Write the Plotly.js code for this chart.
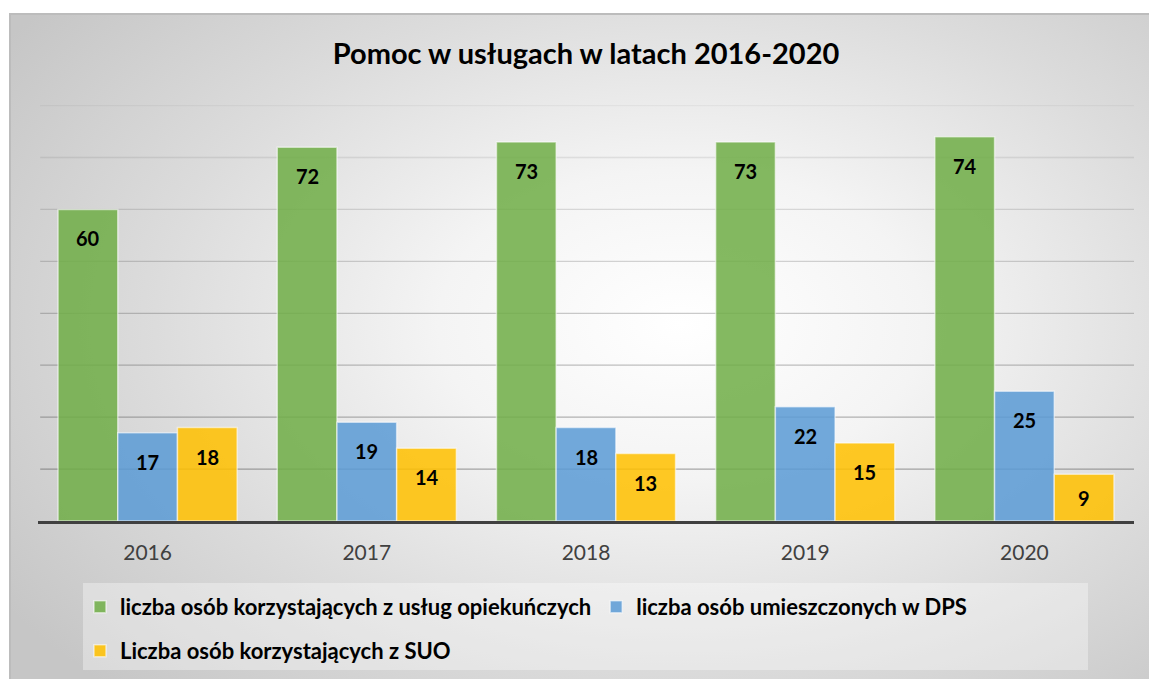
<!DOCTYPE html>
<html>
<head>
<meta charset="utf-8">
<script src="https://cdn.plot.ly/plotly-3.0.1.min.js"></script>
<style>
  html, body { margin: 0; padding: 0; background: #ffffff; width: 1149px; height: 679px; overflow: hidden; }
  #bg { position: absolute; left: 9px; top: 13px; width: 1160px; height: 690px;
        border: 2px solid #bcbcbc; box-sizing: border-box;
        background: radial-gradient(ellipse 70% 75% at 58% 45%, #ffffff 0%, #f4f4f4 30%, #dcdcdc 65%, #c6c6c6 100%); }
  #chart { position: absolute; left: 0; top: 0; width: 1149px; height: 679px; }
</style>
</head>
<body>
<div id="bg"></div>
<div id="chart"></div>
<script>
const years = ['2016', '2017', '2018', '2019', '2020'];
const opiekuncze = [60, 72, 73, 73, 74];
const dps = [17, 19, 18, 22, 25];
const suo = [18, 14, 13, 15, 9];
const seriesNames = [
  'liczba osób korzystających z usług opiekuńczych',
  'liczba osób umieszczonych w DPS',
  'Liczba osób korzystających z SUO'
];
const gridValues = [10, 20, 30, 40, 50, 60, 70, 80];

const seriesColors = ['rgba(112,173,71,0.86)', 'rgba(91,155,213,0.86)', 'rgba(255,192,0,0.86)'];
const seriesValues = [opiekuncze, dps, suo];

const FONT = 'Lato, "Open Sans", sans-serif';
const bargap = 0.183;
const yMax = 80.5;
const pxPerUnit = 415 / 80;
const plotBottom = 521;
const plotTop = Math.round(plotBottom - yMax * pxPerUnit);

const traces = seriesValues.map((vals, i) => ({
  type: 'bar',
  x: years,
  y: vals,
  name: seriesNames[i],
  legend: i < 2 ? 'legend' : 'legend2',
  marker: { color: seriesColors[i], line: { color: 'rgba(255,255,255,0.55)', width: 1.5 } },
  hoverinfo: 'none'
}));

const barW = (1 - bargap) / 3;
const annotations = [];
seriesValues.forEach((vals, i) => {
  vals.forEach((v, j) => {
    const h = v * pxPerUnit;
    annotations.push({
      x: j + (i - 1) * barW,
      y: v,
      xref: 'x', yref: 'y',
      text: String(v),
      showarrow: false,
      yanchor: 'middle',
      yshift: -Math.min(29, h / 2),
      font: { family: FONT, size: 20, color: '#000000', weight: 'bold' }
    });
  });
});

// grid lines fading from darker (bottom) to faint (top)
const shapes = gridValues.map((g, k) => {
  const t = k / (gridValues.length - 1);
  const a = 0.42 - 0.36 * t;
  return {
    type: 'line', xref: 'paper', yref: 'y', layer: 'below',
    x0: 0.002, x1: 1, y0: g, y1: g,
    line: { color: 'rgba(60,60,60,' + a.toFixed(3) + ')', width: 1.3 }
  };
});
shapes.push({
  type: 'rect', xref: 'paper', yref: 'paper', layer: 'below',
  x0: (83 - 38) / 1096, x1: (1088 - 38) / 1096,
  y0: -(670 - plotBottom) / (plotBottom - plotTop), y1: -(583 - plotBottom) / (plotBottom - plotTop),
  fillcolor: 'rgba(255,255,255,0.35)', line: { width: 0 }
});

const legendBase = {
  orientation: 'h', xref: 'paper', xanchor: 'left', yref: 'container', yanchor: 'middle',
  bgcolor: 'rgba(0,0,0,0)', itemwidth: 30,
  font: { family: FONT, size: 22, color: '#000000', weight: 'bold' }
};

const layout = {
  width: 1149, height: 679,
  paper_bgcolor: 'rgba(0,0,0,0)',
  plot_bgcolor: 'rgba(0,0,0,0)',
  margin: { l: 38, r: 15, t: plotTop, b: 679 - plotBottom },
  title: {
    text: '<b>Pomoc w usługach w latach 2016-2020</b>',
    font: { family: FONT, size: 29, color: '#000000' },
    x: 0.5, xanchor: 'center', xref: 'paper',
    y: 1 - 54 / 679, yanchor: 'middle', yref: 'container'
  },
  barmode: 'group',
  bargap: bargap,
  bargroupgap: 0,
  xaxis: {
    type: 'category',
    showline: true, linecolor: '#404040', linewidth: 3,
    ticks: '', ticklabelstandoff: 11,
    tickfont: { family: FONT, size: 21, color: '#404040' },
    showgrid: false, zeroline: false, fixedrange: true
  },
  yaxis: {
    range: [0, yMax],
    showticklabels: false, ticks: '',
    showgrid: false, zeroline: false, showline: false, fixedrange: true
  },
  showlegend: true,
  legend: Object.assign({}, legendBase, { x: 44 / 1149, y: 1 - 607 / 679 }),
  legend2: Object.assign({}, legendBase, { x: 44 / 1149, y: 1 - 651 / 679 }),
  shapes: shapes,
  annotations: annotations
};

Plotly.newPlot('chart', traces, layout, { staticPlot: true, displayModeBar: false });
</script>
</body>
</html>
